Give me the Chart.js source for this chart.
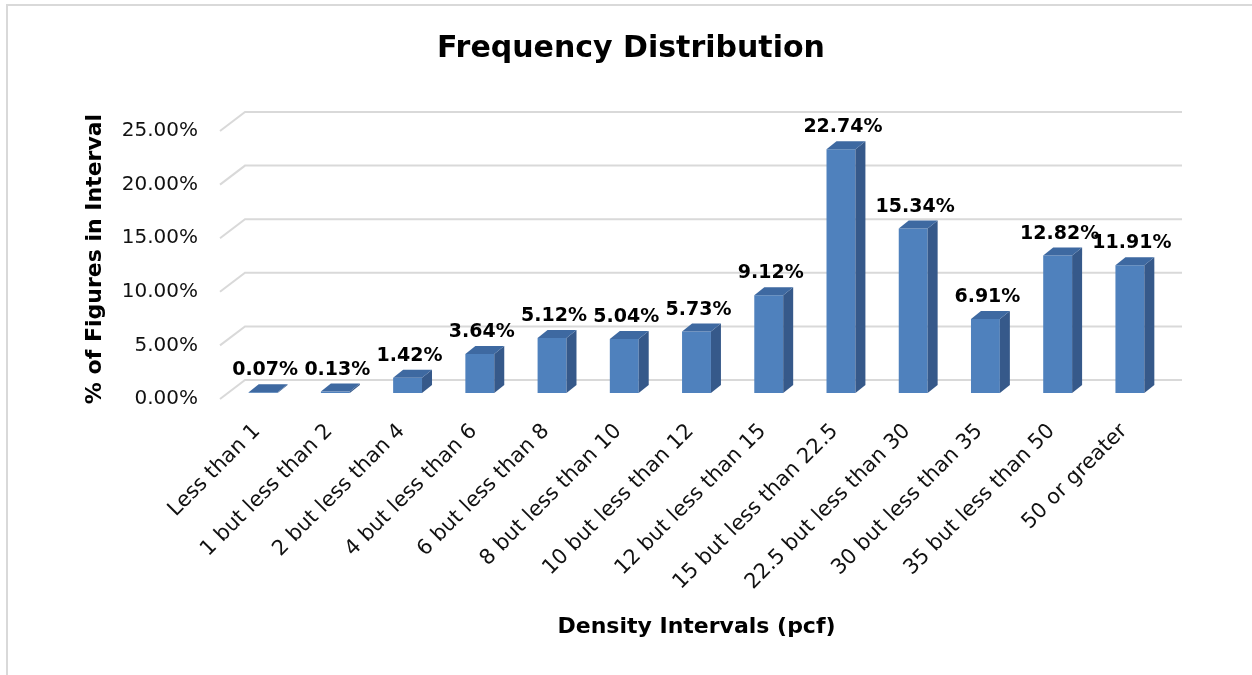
<!DOCTYPE html>
<html>
<head>
<meta charset="utf-8">
<script src="https://cdn.jsdelivr.net/npm/chart.js@4"></script>
<style>
  html, body { margin: 0; padding: 0; background: #fff; }
  #wrap { width: 1252px; height: 675px; }
</style>
</head>
<body>
<div id="wrap"><canvas id="freqChart" width="1252" height="675"></canvas></div>
<script>
const categories = [
    'Less than 1', '1 but less than 2', '2 but less than 4', '4 but less than 6',
    '6 but less than 8', '8 but less than 10', '10 but less than 12', '12 but less than 15',
    '15 but less than 22.5', '22.5 but less than 30', '30 but less than 35',
    '35 but less than 50', '50 or greater'
];
const percents = [0.07, 0.13, 1.42, 3.64, 5.12, 5.04, 5.73, 9.12, 22.74, 15.34, 6.91, 12.82, 11.91];
const yTicks = [0, 5, 10, 15, 20, 25];

const FONT = "'DejaVu Sans', sans-serif";
const DEPTH_X = 10, DEPTH_Y = -8;

// page frame (thin gray border, left and top only)
const framePlugin = {
    id: 'frame',
    beforeDraw(chart) {
        const ctx = chart.ctx;
        ctx.save();
        ctx.fillStyle = '#fff';
        ctx.fillRect(0, 0, chart.width, chart.height);
        ctx.strokeStyle = '#d9d9d9';
        ctx.lineWidth = 2;
        ctx.beginPath();
        ctx.moveTo(7, chart.height);
        ctx.lineTo(7, 5);
        ctx.lineTo(chart.width, 5);
        ctx.stroke();
        ctx.restore();
    }
};

// back wall + side wall gridlines
const wallGrid = {
    id: 'wallGrid',
    beforeDatasetsDraw(chart) {
        const {ctx, chartArea, scales} = chart;
        const y = scales.y;
        ctx.save();
        ctx.strokeStyle = '#d9d9d9';
        ctx.lineWidth = 2;
        yTicks.forEach(v => {
            const py = y.getPixelForValue(v);
            ctx.beginPath();
            ctx.moveTo(chartArea.left - 7, py + 6);
            ctx.lineTo(chartArea.left + 18, py - 13);
            ctx.lineTo(chartArea.right + 16, py - 13);
            ctx.stroke();
        });
        ctx.restore();
    }
};

// side + top faces, then value labels
const bars3d = {
    id: 'bars3d',
    afterDatasetsDraw(chart) {
        const ctx = chart.ctx;
        const meta = chart.getDatasetMeta(0);
        ctx.save();
        meta.data.forEach((bar, i) => {
            const l = bar.x - bar.width / 2, r = bar.x + bar.width / 2;
            const t = bar.y, b = bar.base;
            // side
            ctx.fillStyle = '#36598a';
            ctx.beginPath();
            ctx.moveTo(r, b);
            ctx.lineTo(r + DEPTH_X, b + DEPTH_Y);
            ctx.lineTo(r + DEPTH_X, t + DEPTH_Y);
            ctx.lineTo(r, t);
            ctx.closePath();
            ctx.fill();
            // top
            ctx.fillStyle = '#3e69a1';
            ctx.beginPath();
            ctx.moveTo(l, t);
            ctx.lineTo(l + DEPTH_X, t + DEPTH_Y);
            ctx.lineTo(r + DEPTH_X, t + DEPTH_Y);
            ctx.lineTo(r, t);
            ctx.closePath();
            ctx.fill();

            ctx.fillStyle = '#000';
            ctx.font = 'bold 19px ' + FONT;
            ctx.textAlign = 'center';
            ctx.textBaseline = 'alphabetic';
            ctx.fillText(percents[i].toFixed(2) + '%', bar.x + 2, t - 17);
        });
        ctx.restore();
    }
};

new Chart(document.getElementById('freqChart').getContext('2d'), {
    type: 'bar',
    data: {
        labels: categories,
        datasets: [{
            data: percents,
            backgroundColor: '#4f81bd',
            borderWidth: 0,
            categoryPercentage: 1,
            barPercentage: 0.4
        }]
    },
    options: {
        responsive: false,
        animation: false,
        layout: { padding: { left: 70, right: 60, top: 0, bottom: 0 } },
        plugins: {
            legend: { display: false },
            tooltip: { enabled: false },
            title: {
                display: true,
                text: 'Frequency Distribution',
                color: '#000',
                font: { family: FONT, size: 30, weight: 'bold' },
                padding: { top: 31, bottom: 58 }
            }
        },
        scales: {
            x: {
                grid: { display: false, drawTicks: false },
                border: { display: false },
                ticks: {
                    color: '#111',
                    font: { family: FONT, size: 21 },
                    maxRotation: 45,
                    minRotation: 45,
                    padding: 26,
                    labelOffset: -6,
                    autoSkip: false
                },
                title: {
                    display: true,
                    text: 'Density Intervals (pcf)',
                    color: '#000',
                    font: { family: FONT, size: 22, weight: 'bold' },
                    padding: { top: 0, bottom: 35 }
                },
                afterFit(scale) { scale.height = 282; }
            },
            y: {
                min: 0,
                max: 25,
                grid: { display: false, drawTicks: false },
                border: { display: false },
                ticks: {
                    stepSize: 5,
                    color: '#111',
                    font: { family: FONT, size: 20 },
                    padding: 29,
                    labelOffset: 6,
                    callback: v => v.toFixed(2) + '%'
                },
                afterBuildTicks(scale) { scale.ticks = yTicks.map(v => ({ value: v })); },
                title: {
                    display: true,
                    text: '% of Figures in Interval',
                    color: '#000',
                    font: { family: FONT, size: 22, weight: 'bold' },
                    padding: { top: 12, bottom: 0 }
                },
                afterFit(scale) { scale.width = 157; }
            },
            // empty spacer on the right so the title centre matches
            spacer: {
                position: 'right',
                display: true,
                grid: { display: false, drawTicks: false },
                border: { display: false },
                ticks: { display: false },
                afterFit(scale) { scale.width = 26; }
            }
        }
    },
    plugins: [framePlugin, wallGrid, bars3d]
});
</script>
</body>
</html>
